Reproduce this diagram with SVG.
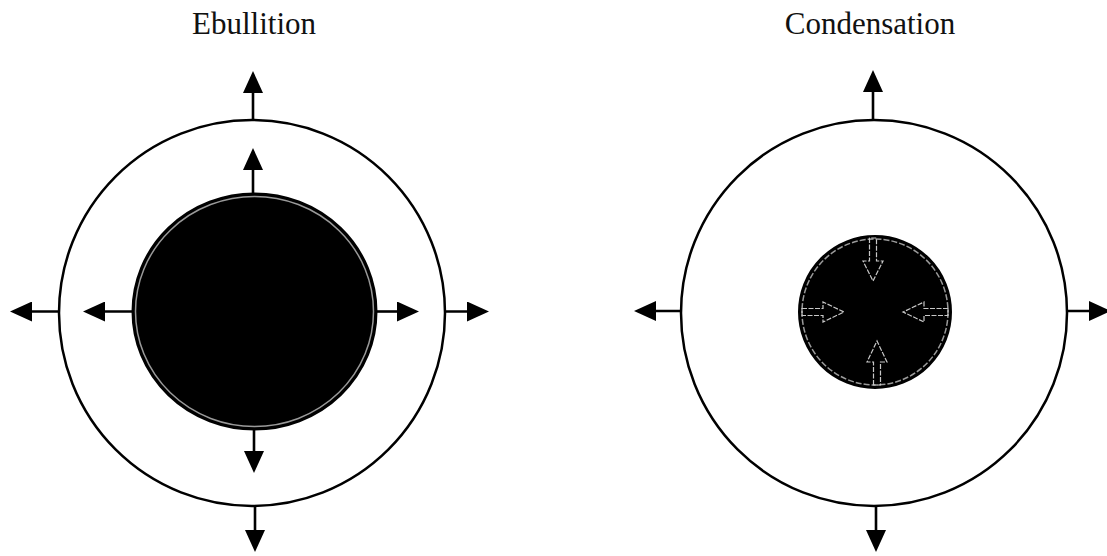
<svg xmlns="http://www.w3.org/2000/svg" width="1107" height="556" viewBox="0 0 1107 556">
  <defs>
    <marker id="ah" viewBox="0 0 22 20" markerWidth="22" markerHeight="20" refX="11" refY="10" orient="auto" markerUnits="userSpaceOnUse">
      <path d="M0,0 L22,10 L0,20 Z" fill="#000"/>
    </marker>
    <style>
      .title { font-family: "Liberation Serif", "Times New Roman", serif; font-size: 31px; fill: #111; text-anchor: middle; }
      .ring { fill: none; stroke: #000; stroke-width: 2.5; }
      .core { fill: #000; stroke: #000; stroke-width: 2; }
      .rim { fill: none; stroke: #9a9a9a; stroke-width: 1.5; }
      .arrow { stroke: #000; stroke-width: 2.6; fill: none; marker-end: url(#ah); }
      .hollow { fill: none; stroke: #c8c8c8; stroke-width: 1.2; stroke-dasharray: 5 1.5; }
    </style>
  </defs>
  <rect width="1107" height="556" fill="#fff"/>

  <g id="ebullition">
    <text class="title" x="254" y="34">Ebullition</text>
    <circle id="ebullition-outer" class="ring" cx="252" cy="313" r="193"/>
    <ellipse id="ebullition-core" class="core" cx="254.5" cy="311.5" rx="122" ry="118"/>
    <ellipse class="rim" cx="254.5" cy="311.5" rx="119" ry="115"/>
  </g>

  <g id="condensation">
    <text class="title" x="870" y="34">Condensation</text>
    <circle id="condensation-outer" class="ring" cx="874" cy="313" r="193"/>
    <circle id="condensation-core" class="core" cx="875" cy="312" r="76"/>
    <circle class="rim" cx="875" cy="312" r="73" stroke="#777" stroke-dasharray="6 2"/>
    <g id="inward-arrows">
      <polygon class="hollow" points="869.5,238 869.5,261 863,261 873,281 883,261 876.5,261 876.5,238"/>
      <polygon class="hollow" points="802,308.5 823,308.5 823,302 844,312 823,322 823,315.5 802,315.5"/>
      <polygon class="hollow" points="948,308.5 924,308.5 924,302 903,312 924,322 924,315.5 948,315.5"/>
      <polygon class="hollow" points="873.5,385 873.5,362 867,362 877,341 887,362 880.5,362 880.5,385"/>
    </g>
  </g>

  <g id="connectors">
    <!-- Ebullition -->
    <line class="arrow" x1="253" y1="119" x2="253" y2="82"/>
    <line class="arrow" x1="253" y1="193" x2="253" y2="159"/>
    <line class="arrow" x1="58" y1="311.5" x2="21" y2="311.5"/>
    <line class="arrow" x1="133" y1="311.5" x2="94" y2="311.5"/>
    <line class="arrow" x1="376" y1="311.5" x2="408" y2="311.5"/>
    <line class="arrow" x1="445" y1="311.5" x2="478" y2="311.5"/>
    <line class="arrow" x1="254" y1="429" x2="254" y2="462"/>
    <line class="arrow" x1="255" y1="506" x2="255" y2="541"/>
    <!-- Condensation -->
    <line class="arrow" x1="873" y1="120" x2="873" y2="81"/>
    <line class="arrow" x1="681" y1="311" x2="645" y2="311"/>
    <line class="arrow" x1="1067" y1="311" x2="1100" y2="311"/>
    <line class="arrow" x1="876" y1="506" x2="876" y2="541"/>
  </g>
</svg>
